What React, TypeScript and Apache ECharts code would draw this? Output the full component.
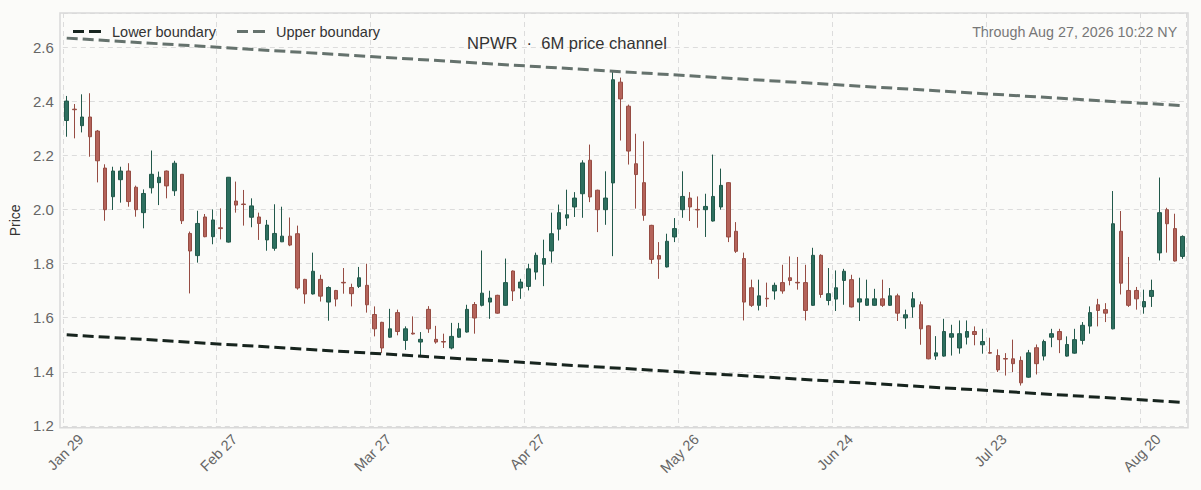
import { useEffect, useRef } from 'react'
import * as echarts from 'echarts'

// trading days, Jan 29 – Aug 27 2026
const JAN = [29, 30]
const FEB = [2, 3, 4, 5, 6, 9, 10, 11, 12, 13, 17, 18, 19, 20, 23, 24, 25, 26, 27]
const MAR = [2, 3, 4, 5, 6, 9, 10, 11, 12, 13, 16, 17, 18, 19, 20, 23, 24, 25, 26, 27, 30, 31]
const APR = [1, 2, 6, 7, 8, 9, 10, 13, 14, 15, 16, 17, 20, 21, 22, 23, 24, 27, 28, 29, 30]
const MAY = [1, 4, 5, 6, 7, 8, 11, 12, 13, 14, 15, 18, 19, 20, 21, 22, 26, 27, 28, 29]
const JUN = [1, 2, 3, 4, 5, 8, 9, 10, 11, 12, 15, 16, 17, 18, 22, 23, 24, 25, 26, 29, 30]
const JUL = [1, 2, 6, 7, 8, 9, 10, 13, 14, 15, 16, 17, 20, 21, 22, 23, 24, 27, 28, 29, 30, 31]
const AUG = [3, 4, 5, 6, 7, 10, 11, 12, 13, 14, 17, 18, 19, 20, 21, 24, 25, 26, 27]

const months: [string, number[]][] = [
  ['Jan', JAN], ['Feb', FEB], ['Mar', MAR], ['Apr', APR],
  ['May', MAY], ['Jun', JUN], ['Jul', JUL], ['Aug', AUG],
]
const dates = months.flatMap(([m, days]) => days.map((d) => `${m} ${d}`))

const open = [
  2.330, 2.372, 2.311, 2.343, 2.291, 2.154, 2.048, 2.111, 2.143, 2.083,
  1.989, 2.081, 2.100, 2.143, 2.070, 2.131, 1.912, 1.830, 1.973, 1.900,
  1.933, 1.880, 2.032, 2.021, 1.972, 1.973, 1.888, 1.857, 1.881, 1.902,
  1.911, 1.742, 1.688, 1.742, 1.658, 1.701, 1.731, 1.712, 1.716, 1.720,
  1.612, 1.583, 1.528, 1.619, 1.516, 1.543, 1.510, 1.631, 1.520, 1.512,
  1.488, 1.528, 1.547, 1.649, 1.646, 1.658, 1.683, 1.646, 1.773, 1.710,
  1.716, 1.769, 1.798, 1.847, 1.928, 1.969, 2.010, 2.059, 2.183, 2.072,
  2.000, 2.099, 2.472, 2.383, 2.170, 2.100, 1.942, 1.830, 1.788, 1.899,
  2.000, 2.043, 2.001, 2.000, 1.958, 2.010, 2.100, 1.920, 1.819, 1.711,
  1.646, 1.672, 1.699, 1.730, 1.748, 1.731, 1.730, 1.646, 1.831, 1.664,
  1.669, 1.738, 1.741, 1.658, 1.646, 1.646, 1.670, 1.646, 1.681, 1.599,
  1.640, 1.648, 1.570, 1.458, 1.458, 1.528, 1.488, 1.528, 1.549, 1.500,
  1.471, 1.460, 1.449, 1.448, 1.442, 1.380, 1.489, 1.458, 1.528, 1.549,
  1.458, 1.469, 1.516, 1.569, 1.648, 1.630, 1.559, 1.920, 1.701, 1.701,
  1.640, 1.679, 1.840, 2.000, 1.930, 1.827,
]
const close = [
  2.402, 2.370, 2.343, 2.270, 2.181, 2.000, 2.143, 2.143, 2.030, 2.000,
  2.060, 2.131, 2.120, 2.088, 2.172, 1.959, 1.847, 1.949, 1.900, 1.962,
  1.930, 2.120, 2.017, 2.019, 2.014, 1.949, 1.943, 1.912, 1.902, 1.869,
  1.710, 1.688, 1.772, 1.680, 1.712, 1.669, 1.729, 1.689, 1.748, 1.648,
  1.559, 1.488, 1.559, 1.549, 1.559, 1.540, 1.520, 1.559, 1.510, 1.510,
  1.531, 1.559, 1.631, 1.599, 1.691, 1.673, 1.617, 1.730, 1.699, 1.732,
  1.781, 1.831, 1.819, 1.911, 1.989, 1.981, 2.043, 2.173, 2.047, 2.000,
  2.043, 2.481, 2.410, 2.217, 2.130, 1.979, 1.816, 1.817, 1.883, 1.930,
  2.049, 2.010, 1.999, 2.012, 2.049, 2.090, 1.899, 1.846, 1.658, 1.646,
  1.681, 1.670, 1.720, 1.699, 1.738, 1.729, 1.627, 1.831, 1.686, 1.689,
  1.711, 1.772, 1.640, 1.670, 1.670, 1.670, 1.646, 1.681, 1.617, 1.611,
  1.670, 1.559, 1.448, 1.470, 1.549, 1.541, 1.541, 1.549, 1.538, 1.512,
  1.469, 1.407, 1.447, 1.430, 1.359, 1.470, 1.430, 1.512, 1.541, 1.519,
  1.501, 1.519, 1.572, 1.619, 1.627, 1.617, 1.948, 1.728, 1.646, 1.670,
  1.660, 1.701, 1.989, 1.948, 1.810, 1.901,
]
const low = [
  2.270, 2.264, 2.286, 2.196, 2.101, 1.959, 1.999, 2.026, 2.011, 1.974,
  1.931, 2.060, 2.017, 2.042, 2.051, 1.947, 1.690, 1.804, 1.898, 1.872,
  1.890, 1.878, 1.989, 1.941, 1.935, 1.888, 1.848, 1.848, 1.880, 1.865,
  1.704, 1.652, 1.686, 1.660, 1.589, 1.642, 1.689, 1.642, 1.710, 1.619,
  1.531, 1.470, 1.526, 1.535, 1.481, 1.538, 1.454, 1.544, 1.504, 1.488,
  1.483, 1.526, 1.545, 1.541, 1.642, 1.596, 1.615, 1.644, 1.662, 1.670,
  1.701, 1.741, 1.717, 1.804, 1.886, 1.940, 1.973, 1.970, 2.028, 1.917,
  1.944, 1.828, 2.256, 2.167, 2.004, 1.959, 1.800, 1.744, 1.786, 1.880,
  1.970, 1.958, 1.933, 1.899, 1.956, 2.000, 1.880, 1.840, 1.590, 1.640,
  1.627, 1.640, 1.667, 1.689, 1.720, 1.704, 1.590, 1.644, 1.674, 1.646,
  1.625, 1.648, 1.638, 1.588, 1.644, 1.644, 1.640, 1.644, 1.588, 1.559,
  1.600, 1.500, 1.446, 1.444, 1.456, 1.460, 1.467, 1.501, 1.498, 1.467,
  1.467, 1.399, 1.386, 1.399, 1.349, 1.378, 1.390, 1.442, 1.491, 1.469,
  1.456, 1.467, 1.501, 1.541, 1.568, 1.584, 1.557, 1.686, 1.640, 1.630,
  1.615, 1.640, 1.812, 1.841, 1.808, 1.818,
]
const high = [
  2.421, 2.391, 2.427, 2.431, 2.295, 2.168, 2.159, 2.159, 2.172, 2.089,
  2.075, 2.219, 2.141, 2.145, 2.181, 2.132, 1.919, 1.996, 1.984, 2.001,
  2.005, 2.121, 2.104, 2.073, 2.042, 1.989, 1.962, 2.020, 2.011, 1.971,
  1.941, 1.744, 1.841, 1.759, 1.716, 1.703, 1.784, 1.726, 1.788, 1.800,
  1.642, 1.585, 1.633, 1.630, 1.568, 1.605, 1.547, 1.643, 1.570, 1.541,
  1.581, 1.581, 1.648, 1.658, 1.849, 1.700, 1.685, 1.819, 1.775, 1.744,
  1.800, 1.841, 1.889, 1.989, 2.019, 2.074, 2.065, 2.183, 2.241, 2.074,
  2.142, 2.510, 2.489, 2.389, 2.281, 2.253, 1.944, 1.880, 1.911, 1.969,
  2.142, 2.065, 2.049, 2.059, 2.204, 2.152, 2.102, 1.954, 1.841, 1.741,
  1.741, 1.730, 1.730, 1.796, 1.827, 1.825, 1.796, 1.859, 1.835, 1.784,
  1.775, 1.781, 1.759, 1.748, 1.741, 1.707, 1.741, 1.710, 1.689, 1.630,
  1.695, 1.660, 1.572, 1.532, 1.596, 1.574, 1.590, 1.590, 1.568, 1.559,
  1.526, 1.483, 1.469, 1.519, 1.457, 1.481, 1.501, 1.519, 1.559, 1.559,
  1.531, 1.559, 1.584, 1.642, 1.670, 1.654, 2.069, 1.995, 1.825, 1.714,
  1.704, 1.741, 2.119, 2.007, 1.985, 1.905,
]

// channel end points (first and last session)
const channelDates = ['Jan 29', 'Aug 27']
const lowerBoundary = [1.537, 1.287]
const upperBoundary = [2.635, 2.385]

const FONT = 'Liberation Sans, Arial, sans-serif'
// two short dashes for the legend swatch
const DASH_ICON = 'path://M0,0H11V3H0ZM16,0H28V3H16Z'

const App = () => {
  const chartRef = useRef<HTMLDivElement>(null)

  useEffect(() => {
    const chart = echarts.init(chartRef.current, undefined, { renderer: 'svg' })

    const candles = dates.map((_, i) => [open[i], close[i], low[i], high[i]])

    const option = {
      animation: false,
      backgroundColor: '#fbfbf9',
      textStyle: { fontFamily: FONT },
      title: {
        text: 'NPWR  ·  6M price channel',
        left: 462,
        top: 29,
        textStyle: { fontSize: 16.5, fontWeight: 'normal', color: '#333' },
      },
      legend: {
        left: 73,
        top: 24,
        padding: 0,
        icon: DASH_ICON,
        itemWidth: 40,
        itemHeight: 3,
        itemGap: 21,
        textStyle: { fontSize: 14.5, color: '#333' },
        data: ['Lower boundary', 'Upper boundary'],
      },
      graphic: [
        {
          type: 'rect',
          shape: { x: 60, y: 13, width: 1128, height: 414.7 },
          style: { fill: 'none', stroke: '#d9d9d9', lineWidth: 1.5 },
          z: 1,
        },
        {
          type: 'text',
          right: 23,
          top: 25,
          style: {
            text: 'Through Aug 27, 2026 10:22 NY',
            fontSize: 14.3,
            fill: '#777',
            fontFamily: FONT,
          },
        },
      ],
      grid: {
        left: 62.85,
        right: 14.7,
        top: 13,
        bottom: 62.3,
      },
      xAxis: {
        type: 'category',
        data: dates,
        boundaryGap: true,
        axisLine: { show: false },
        axisTick: { show: false },
        axisLabel: {
          interval: 19,
          rotate: 45,
          color: '#666',
          fontSize: 14.5,
          margin: -5,
          verticalAlign: 'top',
          lineHeight: 40,
        },
        splitLine: {
          show: true,
          interval: 19,
          lineStyle: { color: '#dcdcdc', type: [5, 4], width: 1 },
        },
      },
      yAxis: {
        type: 'value',
        min: 1.193,
        max: 2.728,
        splitNumber: 7,
        name: 'Price',
        nameLocation: 'middle',
        nameGap: 40,
        nameTextStyle: { fontSize: 14, color: '#333' },
        axisLine: { show: false },
        axisTick: { show: false },
        axisLabel: {
          color: '#666',
          fontSize: 15,
          margin: 9,
          showMinLabel: false,
          showMaxLabel: false,
          formatter: (v: number) => v.toFixed(1),
        },
        splitLine: {
          lineStyle: { color: '#dcdcdc', type: [5, 4], width: 1 },
        },
      },
      series: [
        {
          name: 'Price',
          type: 'candlestick',
          data: candles,
          barWidth: 4,
          itemStyle: {
            color: '#2d6f5f',
            color0: '#b4635a',
            borderColor: '#22594b',
            borderColor0: '#964c43',
            borderWidth: 1,
          },
        },
        {
          name: 'Lower boundary',
          type: 'line',
          symbol: 'none',
          data: channelDates.map((d, i) => [d, lowerBoundary[i]]),
          lineStyle: { color: '#17241e', width: 3, type: [11, 5] },
          itemStyle: { color: '#17241e' },
          z: 3,
        },
        {
          name: 'Upper boundary',
          type: 'line',
          symbol: 'none',
          data: channelDates.map((d, i) => [d, upperBoundary[i]]),
          lineStyle: { color: '#65726d', width: 3, type: [11, 5] },
          itemStyle: { color: '#65726d' },
          z: 3,
        },
      ],
    }

    chart.setOption(option)

    return () => {
      chart.dispose()
    }
  }, [])

  return (
    <div
      ref={chartRef}
      style={{ position: 'fixed', left: 0, top: 0, width: '1201px', height: '490px' }}
    />
  )
}

export default App
